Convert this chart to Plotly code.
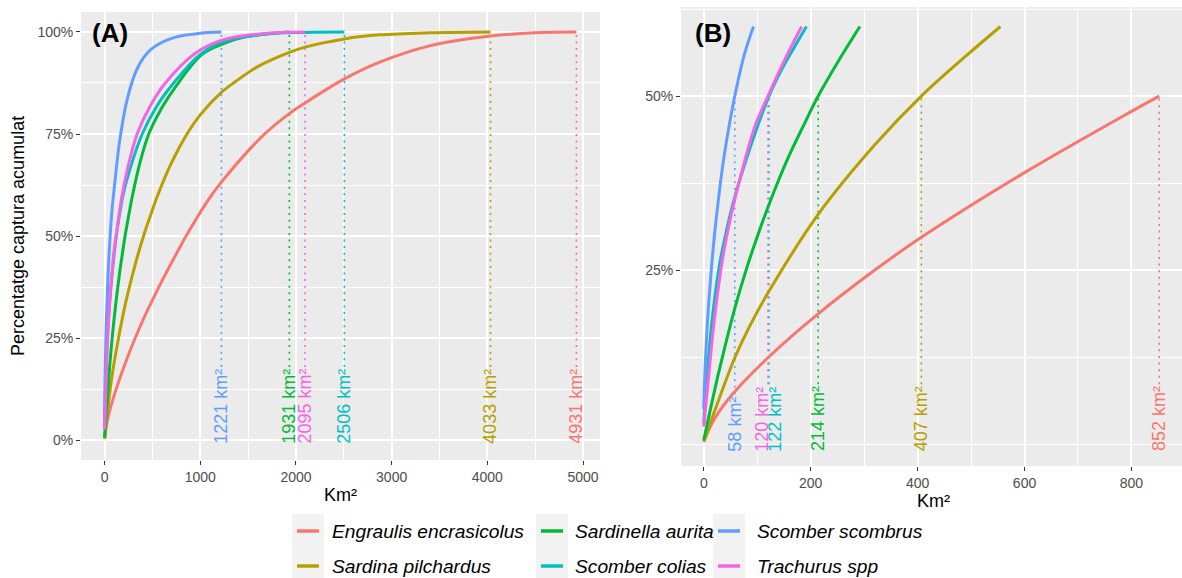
import plotly.graph_objects as go

W, H = 1182, 578
FONT = "Liberation Sans, Arial, sans-serif"

species = ["Engraulis encrasicolus", "Sardina pilchardus", "Sardinella aurita",
           "Scomber colias", "Scomber scombrus", "Trachurus spp"]
colors = ["#F8766D", "#B79F00", "#00BA38", "#00BFC4", "#619CFF", "#F564E3"]

# area (km²) needed to reach 100% and 50% of the cumulative catch
km2_total = [4931, 4033, 1931, 2506, 1221, 2095]
km2_half = [852, 407, 214, 122, 58, 120]

# share of catch shown in the close-up panel (B)
zoom_top = [0.5, 0.6, 0.6, 0.6, 0.6, 0.6]

# cumulative catch curves: area (km²) vs share of total catch
engraulis_km2 = [0, 20, 52, 120, 214, 320, 407, 600, 800, 852, 1086, 1221, 1650,
                 1931, 2095, 2506, 2875, 3396, 4033, 4500, 4931]
engraulis_pct = [0.004, 0.036, 0.07, 0.124, 0.187, 0.25, 0.297, 0.39, 0.478, 0.50,
                 0.589, 0.632, 0.745, 0.80, 0.826, 0.885, 0.926, 0.966, 0.99, 0.998,
                 1.0]

sardina_km2 = [0, 5, 14, 33, 58, 85, 120, 214, 320, 407, 491, 555, 700, 861, 1000,
               1221, 1365, 1600, 1931, 2095, 2506, 2875, 3400, 4033]
sardina_pct = [0.003, 0.014, 0.034, 0.074, 0.124, 0.168, 0.217, 0.33, 0.43, 0.50,
               0.558, 0.60, 0.68, 0.75, 0.797, 0.852, 0.878, 0.915, 0.95, 0.963,
               0.983, 0.993, 0.998, 1.0]

sardinella_km2 = [0, 11, 24, 39, 58, 80, 100, 130, 160, 190, 214, 250, 292, 370,
                  462, 600, 740, 1018, 1250, 1469, 1931]
sardinella_pct = [0.006, 0.045, 0.09, 0.138, 0.195, 0.252, 0.298, 0.36, 0.415,
                  0.463, 0.50, 0.548, 0.60, 0.68, 0.75, 0.815, 0.865, 0.945, 0.972,
                  0.988, 1.0]

colias_km2 = [0, 8, 17, 30, 42, 58, 77, 98, 122, 145, 170, 192, 260, 393, 550, 722,
              1000, 1226, 1643, 2095, 2506]
colias_pct = [0.03, 0.116, 0.188, 0.26, 0.305, 0.355, 0.403, 0.451, 0.50, 0.537,
              0.571, 0.60, 0.66, 0.75, 0.82, 0.875, 0.945, 0.975, 0.994, 0.999, 1.0]

scombrus_km2 = [0, 2, 5, 9, 14, 20, 28, 36, 46, 58, 76, 93, 120, 159, 236, 340, 479,
                722, 1000, 1221]
scombrus_pct = [0.05, 0.10, 0.15, 0.20, 0.25, 0.30, 0.355, 0.403, 0.451, 0.50, 0.56,
                0.60, 0.66, 0.735, 0.835, 0.91, 0.956, 0.986, 0.997, 1.0]

trachurus_km2 = [0, 10, 20, 35, 50, 70, 95, 120, 150, 183, 250, 340, 480, 635, 948,
                 1226, 1643, 2095]
trachurus_pct = [0.025, 0.105, 0.18, 0.265, 0.325, 0.388, 0.455, 0.50, 0.55, 0.60,
                 0.675, 0.75, 0.82, 0.875, 0.948, 0.98, 0.996, 1.0]

curves = [
    (engraulis_km2, engraulis_pct),
    (sardina_km2, sardina_pct),
    (sardinella_km2, sardinella_pct),
    (colias_km2, colias_pct),
    (scombrus_km2, scombrus_pct),
    (trachurus_km2, trachurus_pct),
]

# axis ranges (ggplot-style 5% expansion)
xa_range = [-246.5, 5177.5]
ya_range = [-0.049, 1.049]
xb_range = [-42.6, 894.6]
yb_range = [-0.0316, 0.628]

# panel boxes in pixels (left, right, top, bottom)
box_a = (81, 600, 12, 460)
box_b = (681, 1182, 7, 466)


def px_x(v):
    return v / W


def px_y(v):
    return 1 - v / H


fig = go.Figure()

label_font = 18
label_y = -0.012


def label_height_px(text):
    # approximate rendered length of a rotated label
    widths = {"k": 0.5, "m": 0.833, "²": 0.333, " ": 0.278}
    return label_font * sum(widths.get(c, 0.556) for c in text)


def repel(xs_px, min_gap=13.0):
    # push apart labels that would sit on top of each other
    order = sorted(range(len(xs_px)), key=lambda k: xs_px[k])
    shifts = [0.0] * len(xs_px)
    for a, b in zip(order, order[1:]):
        d = xs_px[b] - xs_px[a]
        if d < min_gap:
            push = (min_gap - d) / 2
            shifts[a] -= push
            shifts[b] += push
    return shifts


panels = [
    ("x", "y", km2_total, 1.0, xa_range, ya_range, box_a),
    ("x2", "y2", km2_half, 0.5, xb_range, yb_range, box_b),
]
for xax, yax, marks, top, xr, yr, box in panels:
    ppu_y = (box[3] - box[2]) / (yr[1] - yr[0])
    ppu_x = (box[1] - box[0]) / (xr[1] - xr[0])
    shifts = repel([m * ppu_x for m in marks])
    # dotted reference lines (under the curves) and their labels
    for i, sp in enumerate(species):
        text = f"{marks[i]} km²"
        y0 = label_y + (label_height_px(text) + 3) / ppu_y
        fig.add_trace(go.Scatter(
            x=[marks[i], marks[i]], y=[y0, top], mode="lines",
            line=dict(color=colors[i], width=1.6, dash="2px,4.6px"),
            xaxis=xax, yaxis=yax, showlegend=False, hoverinfo="skip"))
        fig.add_annotation(
            x=marks[i], y=label_y, xref=xax, yref=yax, text=text,
            textangle=-90, xanchor="center", yanchor="bottom", showarrow=False,
            xshift=shifts[i],
            font=dict(family=FONT, size=label_font, color=colors[i]),
            borderpad=0)

for i, sp in enumerate(species):
    xs, ys = curves[i]
    style = dict(color=colors[i], width=3, shape="spline", smoothing=1.0)
    fig.add_trace(go.Scatter(x=xs, y=ys, mode="lines", name=sp, line=style,
                             xaxis="x", yaxis="y", showlegend=False))
    n = sum(1 for v in ys if v <= zoom_top[i] + 1e-9)
    fig.add_trace(go.Scatter(x=xs[:n], y=ys[:n], mode="lines", name=sp,
                             line=style, xaxis="x2", yaxis="y2",
                             showlegend=False))

grid = dict(showgrid=True, gridcolor="white", gridwidth=2, zeroline=False,
            showline=False, ticks="outside", ticklen=4, tickwidth=1.1,
            tickcolor="#333333",
            tickfont=dict(family=FONT, size=14, color="#4D4D4D"))


def minor(vals):
    return dict(tickvals=vals, showgrid=True, gridcolor="white", gridwidth=1,
                ticks="")


fig.update_layout(
    width=W, height=H, margin=dict(l=0, r=0, t=0, b=0),
    paper_bgcolor="white", plot_bgcolor="#EBEBEB",
    xaxis=dict(domain=[px_x(box_a[0]), px_x(box_a[1])], range=xa_range,
               tickvals=[0, 1000, 2000, 3000, 4000, 5000],
               minor=minor([500, 1500, 2500, 3500, 4500]), anchor="y", **grid),
    yaxis=dict(domain=[px_y(box_a[3]), px_y(box_a[2])], range=ya_range,
               tickvals=[0, 0.25, 0.5, 0.75, 1.0],
               ticktext=["0%", "25%", "50%", "75%", "100%"],
               minor=minor([0.125, 0.375, 0.625, 0.875]), anchor="x", **grid),
    xaxis2=dict(domain=[px_x(box_b[0]), px_x(box_b[1])], range=xb_range,
                tickvals=[0, 200, 400, 600, 800],
                minor=minor([100, 300, 500, 700]), anchor="y2", **grid),
    yaxis2=dict(domain=[px_y(box_b[3]), px_y(box_b[2])], range=yb_range,
                tickvals=[0.25, 0.5], ticktext=["25%", "50%"],
                minor=minor([0, 0.125, 0.375, 0.625]), anchor="x2", **grid),
)

# panel tags
for tag, x in [("(A)", 110), ("(B)", 713)]:
    fig.add_annotation(x=px_x(x), y=px_y(33), xref="paper", yref="paper",
                       text=f"<b>{tag}</b>", showarrow=False,
                       xanchor="center", yanchor="middle",
                       font=dict(family=FONT, size=26, color="black"))

# axis titles
fig.add_annotation(x=px_x(18), y=px_y(236), xref="paper", yref="paper",
                   text="Percentatge captura acumulat", textangle=-90,
                   showarrow=False, xanchor="center", yanchor="middle",
                   font=dict(family=FONT, size=18, color="black"))
for x, y in [(340.5, 495), (933, 501)]:
    fig.add_annotation(x=px_x(x), y=px_y(y), xref="paper", yref="paper",
                       text="Km²", showarrow=False, xanchor="center",
                       yanchor="middle",
                       font=dict(family=FONT, size=18, color="black"))

# legend: three columns of two entries
col_key_left = [296, 540, 717]
col_text_left = [330, 573, 755]
row_y = [531, 566]
for c in range(3):
    fig.add_shape(type="rect", xref="paper", yref="paper",
                  x0=px_x(col_key_left[c] - 4), x1=px_x(col_key_left[c] + 28),
                  y0=px_y(578), y1=px_y(514),
                  fillcolor="#F2F2F2", line=dict(width=0), layer="below")
for i, sp in enumerate(species):
    c, r = i // 2, i % 2
    fig.add_shape(type="line", xref="paper", yref="paper",
                  x0=px_x(col_key_left[c] + 1), x1=px_x(col_key_left[c] + 23),
                  y0=px_y(row_y[r]), y1=px_y(row_y[r]),
                  line=dict(color=colors[i], width=3.5))
    fig.add_annotation(x=px_x(col_text_left[c]), y=px_y(row_y[r]),
                       xref="paper", yref="paper", text=f"<i>{sp}</i>",
                       showarrow=False, xanchor="left", yanchor="middle",
                       font=dict(family=FONT, size=19.2, color="black"))

fig.write_html("out.html")
